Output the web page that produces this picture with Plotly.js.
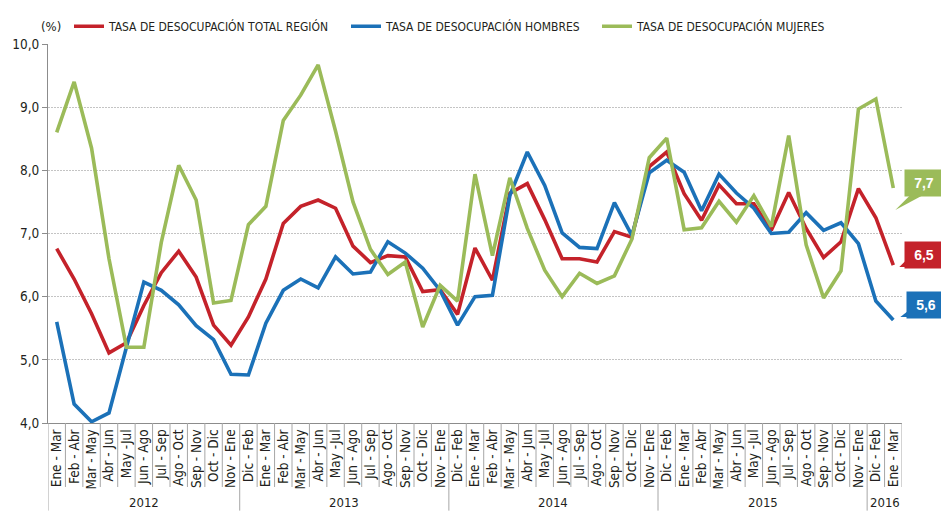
<!DOCTYPE html>
<html>
<head>
<meta charset="utf-8">
<script src="https://cdn.plot.ly/plotly-3.0.1.min.js"></script>
<style>
html,body{margin:0;padding:0;background:#fff;}
#chart{width:941px;height:512px;}
</style>
</head>
<body>
<div id="chart"></div>
<script>
// ---- data ----
const periods = [
  "Ene - Mar","Feb - Abr","Mar - May","Abr - Jun","May -Jul","Jun - Ago","Jul - Sep","Ago - Oct","Sep - Nov","Oct - Dic","Nov - Ene",
  "Dic - Feb","Ene - Mar","Feb - Abr","Mar - May","Abr - Jun","May -Jul","Jun - Ago","Jul - Sep","Ago - Oct","Sep - Nov","Oct - Dic","Nov - Ene",
  "Dic - Feb","Ene - Mar","Feb - Abr","Mar - May","Abr - Jun","May -Jul","Jun - Ago","Jul - Sep","Ago - Oct","Sep - Nov","Oct - Dic","Nov - Ene",
  "Dic - Feb","Ene - Mar","Feb - Abr","Mar - May","Abr - Jun","May -Jul","Jun - Ago","Jul - Sep","Ago - Oct","Sep - Nov","Oct - Dic","Nov - Ene",
  "Dic - Feb","Ene - Mar"
];
const years = ["2012","2013","2014","2015","2016"];
const yearCounts = [11,12,12,12,2];

const total = [
  6.76,6.28,5.73,5.11,5.27,5.86,6.38,6.72,6.31,5.55,5.23,
  5.68,6.28,7.16,7.43,7.53,7.40,6.80,6.54,6.65,6.63,6.08,6.11,
  5.72,6.77,6.26,7.64,7.79,7.22,6.60,6.60,6.55,7.03,6.94,8.06,
  8.29,7.63,7.21,7.77,7.47,7.47,7.05,7.65,7.08,6.62,6.87,7.71,
  7.25,6.50
];
const hombres = [
  5.60,4.30,4.02,4.16,5.20,6.23,6.10,5.87,5.54,5.32,4.77,
  4.76,5.58,6.10,6.28,6.14,6.63,6.36,6.39,6.87,6.69,6.45,6.10,
  5.55,6.00,6.02,7.60,8.29,7.76,7.01,6.78,6.76,7.49,6.97,7.96,
  8.16,7.97,7.36,7.94,7.64,7.40,7.00,7.02,7.33,7.05,7.17,6.84,
  5.93,5.63
];
const mujeres = [
  8.60,9.40,8.35,6.60,5.20,5.20,6.86,8.08,7.53,5.90,5.94,
  7.14,7.43,8.79,9.19,9.67,8.62,7.50,6.75,6.35,6.55,5.52,6.18,
  5.93,7.94,6.65,7.88,7.08,6.42,6.00,6.37,6.21,6.33,6.91,8.20,
  8.51,7.06,7.09,7.51,7.18,7.60,7.11,8.55,6.82,5.98,6.41,8.97,
  9.13,7.72
];
const seriesNames = [
  "TASA DE DESOCUPACIÓN TOTAL REGIÓN",
  "TASA DE DESOCUPACIÓN HOMBRES",
  "TASA DE DESOCUPACIÓN MUJERES"
];
const yTitle = "(%)";

// ---- style ----
const colors = ["#c4222a", "#1b71b8", "#9bbb59"];
const NARROW = '"Liberation Sans Narrow", "Arial Narrow", "DejaVu Sans Condensed", sans-serif';
const BOLD = '"Liberation Sans", Arial, sans-serif';
const TXT = "#231f20";

const n = periods.length;
const xs = periods.map((_, i) => i);
const allSeries = [total, hombres, mujeres];
const legendIds = ["legend", "legend2", "legend3"];
const yRange = [4, 10];
const xRange = [-0.5, n - 0.5];

const traces = allSeries.map((s, k) => ({
  type: "scatter",
  mode: "lines",
  x: xs,
  y: s,
  name: seriesNames[k],
  legend: legendIds[k],
  line: {color: colors[k], width: 3.6},
  hoverinfo: "skip"
}));

// separators below the axis
const H = 512, mT = 38, mB = 89;
const plotH = H - mT - mB;
const pxToPaperY = py => (H - mB - py) / plotH;

const shapes = [];
const yearBounds = [0];
let acc = 0;
yearCounts.forEach(c => { acc += c; yearBounds.push(acc); });
for (let i = 0; i <= n; i++) {
  const isYear = yearBounds.includes(i) && i !== n;
  shapes.push({
    type: "line", xref: "x", yref: "paper",
    x0: i - 0.5, x1: i - 0.5,
    y0: 0, y1: pxToPaperY(isYear ? 512 : 488),
    line: {color: "#a6a6a6", width: 1}
  });
}

const annotations = [];
// year labels
acc = 0;
yearCounts.forEach((c, k) => {
  annotations.push({
    xref: "x", yref: "paper",
    x: acc + (c - 1) / 2, y: pxToPaperY(504),
    text: years[k], showarrow: false,
    xanchor: "center", yanchor: "middle",
    font: {family: NARROW, size: 13, color: TXT}
  });
  acc += c;
});
// (%) label
annotations.push({
  xref: "paper", yref: "paper",
  x: (51 - 48) / 854, y: pxToPaperY(20),
  text: yTitle, showarrow: false,
  xanchor: "center", yanchor: "middle",
  font: {family: NARROW, size: 13, color: TXT}
});

// end value callouts
const callouts = [
  {s: total, c: colors[0], xs: 31, ys: 10, tail: "M 13 5 L 6 -2 L 17 -2 Z"},
  {s: hombres, c: colors[1], xs: 33, ys: 15, tail: "M 16 10 L 7 3 L 21 3 Z"},
  {s: mujeres, c: colors[2], xs: 31, ys: 5, tail: "M 17 -7 L 2 -22 L 30 -7 Z"}
];
const lastXPaper = ((n - 1) - xRange[0]) / (xRange[1] - xRange[0]);
callouts.forEach(o => {
  const v = o.s[n - 1];
  annotations.push({
    xref: "x", yref: "y", x: n - 1, y: v,
    xshift: o.xs, yshift: o.ys,
    text: "<b>" + v.toFixed(1).replace(".", ",") + "</b>",
    showarrow: false, xanchor: "center", yanchor: "middle",
    bgcolor: o.c, width: 34, height: 22, borderpad: 2,
    font: {family: BOLD, size: 14, color: "#ffffff"}
  });
  shapes.push({
    type: "path", xref: "paper", yref: "paper",
    xsizemode: "pixel", ysizemode: "pixel",
    xanchor: lastXPaper,
    yanchor: (v - yRange[0]) / (yRange[1] - yRange[0]),
    path: o.tail, fillcolor: o.c, line: {width: 0},
    layer: "above"
  });
});

const legendBase = {
  orientation: "h", yref: "paper", y: pxToPaperY(20),
  xanchor: "left", yanchor: "middle",
  bgcolor: "rgba(0,0,0,0)", borderwidth: 0,
  font: {family: NARROW, size: 12, color: TXT},
  itemwidth: 30
};
const legendTextStarts = [109, 386, 637];
const lx = t => (t - 40 - 48) / 854;

const layout = {
  width: 941, height: 512,
  margin: {l: 48, r: 39, t: mT, b: mB, pad: 0},
  paper_bgcolor: "#ffffff", plot_bgcolor: "#ffffff",
  separators: ",.",
  showlegend: true,
  legend: Object.assign({}, legendBase, {x: lx(legendTextStarts[0])}),
  legend2: Object.assign({}, legendBase, {x: lx(legendTextStarts[1])}),
  legend3: Object.assign({}, legendBase, {x: lx(legendTextStarts[2])}),
  xaxis: {
    range: xRange,
    tickmode: "array", tickvals: xs, ticktext: periods,
    tickangle: -90, ticks: "",
    tickfont: {family: NARROW, size: 13.5, color: TXT},
    showgrid: false, zeroline: false,
    showline: true, linecolor: "#8c8c8c", linewidth: 1,
    fixedrange: true
  },
  yaxis: {
    range: yRange, dtick: 1, tick0: 4,
    tickformat: ".1f",
    ticks: "outside", ticklen: 5, tickcolor: "#8c8c8c",
    tickfont: {family: NARROW, size: 13.5, color: TXT},
    showgrid: true, gridcolor: "#c4c4c4", gridwidth: 1, griddash: "2px,1px",
    zeroline: false,
    showline: true, linecolor: "#8c8c8c", linewidth: 1,
    fixedrange: true
  },
  shapes: shapes,
  annotations: annotations
};

Plotly.newPlot("chart", traces, layout, {displayModeBar: false, staticPlot: true});
</script>
</body>
</html>
